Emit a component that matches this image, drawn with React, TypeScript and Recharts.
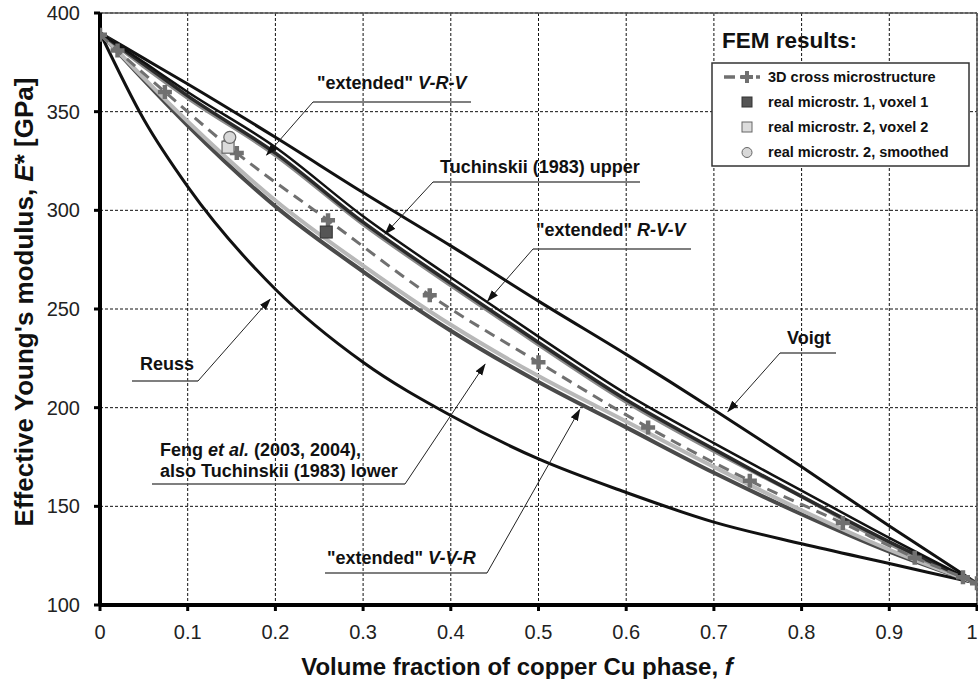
import React from 'react';
import { ComposedChart, Line, Scatter, XAxis, YAxis, CartesianGrid, ReferenceLine } from 'recharts';

// volume fraction of Cu, shared by the analytical curves
const fractions = [0, 0.05, 0.1, 0.2, 0.3, 0.4, 0.5, 0.6, 0.7, 0.8, 0.9, 1];

// effective Young's modulus [GPa]
const voigt = [390, 377, 364, 337, 309, 282, 254, 227, 199, 170, 140, 111];
const extVRV = [390, 375, 360, 332, 297, 266, 236, 207, 182, 158, 134, 111];
const tuchUpper = [390, 374, 358, 329, 294, 263, 233, 204, 179, 155, 132, 111];
const extRVV = [390, 373, 357, 328, 293, 262, 232, 203, 178, 155, 131, 111];
const feng = [390, 367, 345, 305, 272, 242, 216, 193, 170, 148, 128, 111];
const extVVR = [390, 366, 343, 302, 269, 239, 213, 190, 167, 146, 127, 111];
const reuss = [390, 346, 312, 260, 223, 196, 174, 157, 142, 131, 121, 111];

// FEM: 3D cross microstructure
const crossFractions = [0, 0.02, 0.074, 0.156, 0.26, 0.376, 0.5, 0.625, 0.741, 0.847, 0.929, 0.984, 1];
const crossModulus = [389, 381, 360, 329, 295, 257, 223, 190, 163, 141.5, 124, 114, 111];

// FEM: real microstructures
const micro1Voxel = [{ f: 0.258, E: 289 }];
const micro2Voxel = [{ f: 0.146, E: 332 }];
const micro2Smooth = [{ f: 0.148, E: 337 }];

const xTicks = [0, 0.1, 0.2, 0.3, 0.4, 0.5, 0.6, 0.7, 0.8, 0.9, 1];
const yTicks = [100, 150, 200, 250, 300, 350, 400];

const W = 978;
const H = 679;
const FONT = '"Liberation Sans", Arial, sans-serif';

// plot box (matches chart margins + axis sizes below)
const PLOT_L = 100;
const PLOT_R = 977;
const PLOT_T = 13;
const PLOT_B = 605;
const xPx = (f: number) => PLOT_L + f * (PLOT_R - PLOT_L);
const yPx = (e: number) => PLOT_B - ((e - 100) / 300) * (PLOT_B - PLOT_T);

const rows = (ys: number[]) => fractions.map((f, i) => ({ f, E: ys[i] }));
const crossRows = crossFractions.map((f, i) => ({ f, E: crossModulus[i] }));

const PlusDot = (p: any) => {
  const { cx, cy, index } = p;
  if (cx == null || cy == null) return <g key={`p-${index}`} />;
  return (
    <path
      key={`p-${index}`}
      d={`M${cx - 7},${cy}h14M${cx},${cy - 7}v14`}
      stroke="#707070"
      strokeWidth={4.5}
    />
  );
};

const DarkSquare = (p: any) => (
  <rect x={p.cx - 6} y={p.cy - 6} width={12} height={12} fill="#555" stroke="#333" strokeWidth={1} />
);
const LightSquare = (p: any) => (
  <rect x={p.cx - 6} y={p.cy - 6} width={12} height={12} fill="#dcdcdc" stroke="#666" strokeWidth={1.2} />
);
const LightCircle = (p: any) => (
  <circle cx={p.cx} cy={p.cy} r={6} fill="#d8d8d8" stroke="#666" strokeWidth={1.2} />
);

// x tick: keep the last label ("1") inside the picture
const XTick = (p: any) => {
  const { x, y, payload } = p;
  const shift = payload.value === 1 ? -5 : 0;
  return (
    <text x={x + shift} y={y} dy="0.71em" textAnchor="middle" style={{ fontFamily: FONT, fontSize: 20, fill: '#222' }}>
      {String(payload.value)}
    </text>
  );
};

// leader: underline + slanted arrow to a point on the curve
function Callout({ x1, x2, y, from, tipF, tipE }: any) {
  const sx = from === 'left' ? x1 : x2;
  return (
    <g>
      <line x1={x1} y1={y} x2={x2} y2={y} stroke="#555" strokeWidth={1.5} />
      <line x1={sx} y1={y} x2={xPx(tipF)} y2={yPx(tipE)} stroke="#222" strokeWidth={1} markerEnd="url(#arrow)" />
    </g>
  );
}

const labelStyle = { fontFamily: FONT, fontSize: 18, fontWeight: 700, fill: '#111' } as const;

function Overlay() {
  return (
    <svg width={W} height={H} style={{ position: 'absolute', left: 0, top: 0, pointerEvents: 'none' }}>
      <defs>
        <marker id="arrow" markerUnits="userSpaceOnUse" markerWidth={12} markerHeight={10} refX={11} refY={5} orient="auto">
          <path d="M0,1 L12,5 L0,9 z" fill="#111" />
        </marker>
      </defs>

      {/* axis titles */}
      <text x={517} y={675} textAnchor="middle" style={{ fontFamily: FONT, fontSize: 24, fontWeight: 700, fill: '#111' }}>
        Volume fraction of copper Cu phase, <tspan fontStyle="italic">f</tspan>
      </text>
      <text
        x={33}
        y={302}
        textAnchor="middle"
        transform="rotate(-90 33 302)"
        style={{ fontFamily: FONT, fontSize: 26, fontWeight: 700, fill: '#111' }}
      >
        Effective Young's modulus, <tspan fontStyle="italic">E</tspan>* [GPa]
      </text>

      {/* annotations */}
      <text x={317} y={89} style={labelStyle}>
        "extended" <tspan fontStyle="italic">V-R-V</tspan>
      </text>
      <Callout x1={313} x2={471} y={102} from="left" tipF={0.19} tipE={328} />

      <text x={440} y={173} style={labelStyle}>Tuchinskii (1983) upper</text>
      <Callout x1={433} x2={640} y={182} from="left" tipF={0.325} tipE={288} />

      <text x={536} y={236} style={labelStyle}>
        "extended" <tspan fontStyle="italic">R-V-V</tspan>
      </text>
      <Callout x1={533} x2={691} y={249} from="left" tipF={0.442} tipE={254} />

      <text x={787} y={344} style={labelStyle}>Voigt</text>
      <Callout x1={780} x2={836} y={353} from="left" tipF={0.716} tipE={198} />

      <text x={140} y={370} style={labelStyle}>Reuss</text>
      <Callout x1={132} x2={198} y={381} from="right" tipF={0.194} tipE={255} />

      <text x={160} y={456} style={labelStyle}>
        Feng <tspan fontStyle="italic">et al.</tspan> (2003, 2004),
      </text>
      <text x={160} y={477} style={labelStyle}>also Tuchinskii (1983) lower</text>
      <Callout x1={152} x2={405} y={484} from="right" tipF={0.439} tipE={222} />

      <text x={327} y={564} style={labelStyle}>
        "extended" <tspan fontStyle="italic">V-V-R</tspan>
      </text>
      <Callout x1={325} x2={487} y={573} from="right" tipF={0.547} tipE={199} />

      {/* legend */}
      <text x={722} y={48} style={{ fontFamily: FONT, fontSize: 22.5, fontWeight: 700, fill: '#111' }}>FEM results:</text>
      <rect x={712} y={63} width={257} height={103} fill="#fff" stroke="#333" strokeWidth={1.5} />
      <g style={{ fontFamily: FONT, fontSize: 14.5, fontWeight: 700, fill: '#111' }}>
        <line x1={724} y1={77} x2={760} y2={77} stroke="#707070" strokeWidth={3.5} strokeDasharray="11 5" />
        <path d="M741,77h12M747,71v12" stroke="#707070" strokeWidth={4} />
        <text x={768} y={82}>3D cross microstructure</text>
        <rect x={742} y={97} width={10} height={10} fill="#555" stroke="#333" />
        <text x={768} y={107}>real microstr. 1, voxel 1</text>
        <rect x={742} y={122} width={10} height={10} fill="#dcdcdc" stroke="#666" />
        <text x={768} y={132}>real microstr. 2, voxel 2</text>
        <circle cx={747} cy={152.5} r={5} fill="#d8d8d8" stroke="#666" />
        <text x={768} y={157}>real microstr. 2, smoothed</text>
      </g>
    </svg>
  );
}

export default function App() {
  const tickStyle = { fontFamily: FONT, fontSize: 20, fill: '#222' };
  return (
    <div style={{ position: 'absolute', left: 0, top: 0, width: W, height: H, background: '#fff' }}>
      <ComposedChart width={W} height={H} margin={{ top: 13, right: 1, bottom: 0, left: 0 }}>
        <CartesianGrid stroke="#111" strokeDasharray="3 2" strokeWidth={1} />
        <XAxis
          type="number"
          dataKey="f"
          domain={[0, 1]}
          ticks={xTicks}
          interval={0}
          height={74}
          tick={XTick}
          tickSize={6}
          tickMargin={14}
          axisLine={{ stroke: '#000', strokeWidth: 4 }}
          tickLine={{ stroke: '#000', strokeWidth: 3 }}
          allowDataOverflow
        />
        <YAxis
          type="number"
          dataKey="E"
          domain={[100, 400]}
          ticks={yTicks}
          interval={0}
          width={100}
          tick={tickStyle}
          tickSize={6}
          tickMargin={14}
          axisLine={{ stroke: '#000', strokeWidth: 4 }}
          tickLine={{ stroke: '#000', strokeWidth: 3 }}
          allowDataOverflow
        />
        <ReferenceLine y={400} stroke="#555" strokeWidth={1.5} />
        <ReferenceLine x={1} stroke="#555" strokeWidth={1.5} />

        <Line data={rows(reuss)} dataKey="E" type="monotone" stroke="#111" strokeWidth={3} dot={false} isAnimationActive={false} />
        <Line data={rows(voigt)} dataKey="E" type="monotone" stroke="#111" strokeWidth={3} dot={false} isAnimationActive={false} />
        <Line data={rows(extVVR)} dataKey="E" type="monotone" stroke="#4a4a4a" strokeWidth={4} dot={false} isAnimationActive={false} />
        <Line data={rows(feng)} dataKey="E" type="monotone" stroke="#b8b8b8" strokeWidth={4} dot={false} isAnimationActive={false} />
        <Line data={rows(extRVV)} dataKey="E" type="monotone" stroke="#8a8a8a" strokeWidth={4} dot={false} isAnimationActive={false} />
        <Line data={rows(tuchUpper)} dataKey="E" type="monotone" stroke="#2a2a2a" strokeWidth={3.5} dot={false} isAnimationActive={false} />
        <Line data={rows(extVRV)} dataKey="E" type="monotone" stroke="#111" strokeWidth={2.5} dot={false} isAnimationActive={false} />

        <Line
          data={crossRows}
          dataKey="E"
          type="monotone"
          stroke="#707070"
          strokeWidth={3}
          strokeDasharray="11 7"
          dot={PlusDot}
          isAnimationActive={false}
        />

        <Scatter data={micro1Voxel} dataKey="E" shape={DarkSquare} isAnimationActive={false} />
        <Scatter data={micro2Voxel} dataKey="E" shape={LightSquare} isAnimationActive={false} />
        <Scatter data={micro2Smooth} dataKey="E" shape={LightCircle} isAnimationActive={false} />
      </ComposedChart>
      <Overlay />
    </div>
  );
}
